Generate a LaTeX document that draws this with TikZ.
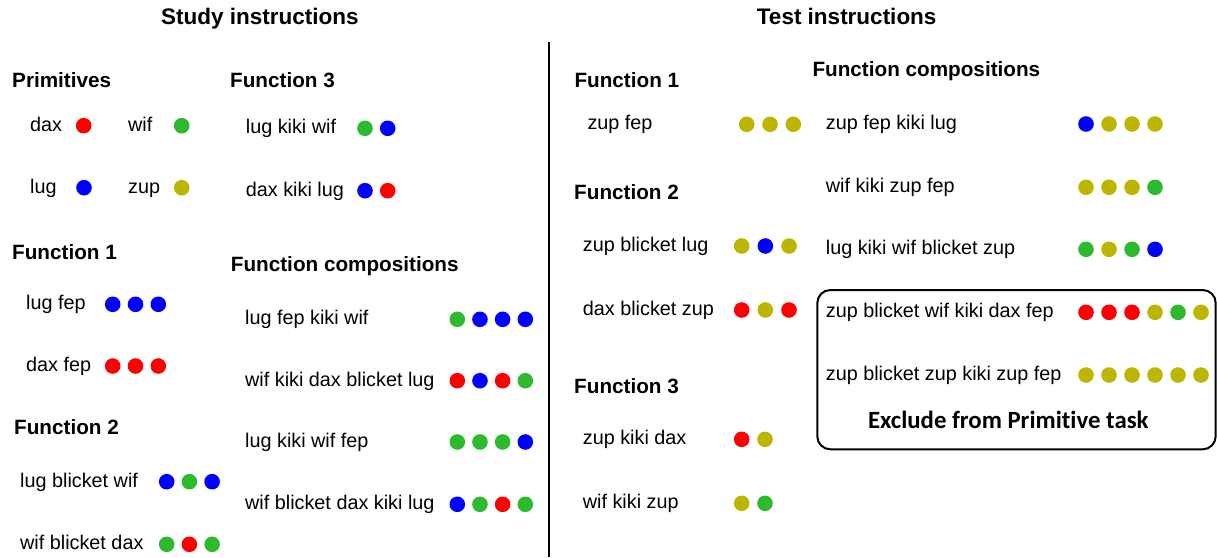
\documentclass[tikz,border=0pt]{standalone}
\usepackage{fontspec}
\setmainfont{Liberation Sans}
\newfontfamily\calibfont[Ligatures=NoCommon]{Carlito}
\definecolor{cred}{RGB}{255,0,0}
\definecolor{cblue}{RGB}{0,0,255}
\definecolor{cgreen}{RGB}{46,186,46}
\definecolor{colive}{RGB}{189,182,0}
\newcommand{\dotrow}[5]{% name, x0, y, spacing, colors
  \foreach \c [count=\i from 0] in {#5} {
    \node[dotnode, fill=\c] (#1-\i) at ({#2+#4*\i}, #3) {};
  }%
}
\begin{document}
\begin{tikzpicture}[x=1pt, y=-1pt,
  dotnode/.style={circle, draw=none, minimum size=15.6pt, inner sep=0pt},
  txt/.style={anchor=base west, inner sep=0pt, font=\fontsize{19.8}{23}\selectfont},
  head/.style={anchor=base west, inner sep=0pt, font=\fontsize{20.7}{24}\selectfont\bfseries},
  title/.style={anchor=base west, inner sep=0pt, font=\fontsize{22.5}{26}\selectfont\bfseries},
  excl/.style={anchor=base, inner sep=0pt, font=\fontsize{24.8}{28}\selectfont\calibfont\bfseries},
  sep/.style={line width=1.6pt, black},
  exclbox/.style={draw=black, line width=2pt, rounded corners=13pt, inner sep=0pt,
                  minimum width=398.4pt, minimum height=159.3pt}
]
\useasboundingbox (0,0) rectangle (1217,557);
% titles
\node[title] (tstudy) at (161,24) {Study instructions};
\node[title] (ttest) at (756.7,24) {Test instructions};
% separator
\coordinate (septop) at (549,41.7);
\coordinate (sepbot) at (549,557);
\draw[sep] (septop) -- (sepbot);
% ---------- left: study ----------
\node[head] (hprim) at (12,87) {Primitives};
\node[txt] (tdax) at (30,131.3) {dax};
\dotrow{ddax}{83.7}{125.7}{22.8}{cred}
\node[txt] (twif) at (128,131.3) {wif};
\dotrow{dwif}{181.7}{125.7}{22.8}{cgreen}
\node[txt] (tlug) at (30,193.3) {lug};
\dotrow{dlug}{84}{187.7}{22.8}{cblue}
\node[txt] (tzup) at (128,193.3) {zup};
\dotrow{dzup}{181.7}{187.7}{22.8}{colive}

\node[head] (hsf1) at (12,259) {Function 1};
\node[txt] (tlugfep) at (26,309.9) {lug fep};
\dotrow{dlugfep}{112.7}{304.3}{22.8}{cblue,cblue,cblue}
\node[txt] (tdaxfep) at (26,371.6) {dax fep};
\dotrow{ddaxfep}{112.7}{366}{22.8}{cred,cred,cred}

\node[head] (hsf2) at (14,434) {Function 2};
\node[txt] (tlbw) at (20,487.3) {lug blicket wif};
\dotrow{dlbw}{166.7}{481.7}{22.7}{cblue,cgreen,cblue}
\node[txt] (twbd) at (20,549.9) {wif blicket dax};
\dotrow{dwbd}{166.7}{544.3}{22.7}{cgreen,cred,cgreen}

\node[head] (hsf3) at (230,87) {Function 3};
\node[txt] (tlkw) at (245.7,133.9) {lug kiki wif};
\dotrow{dlkw}{365}{128.3}{22.7}{cgreen,cblue}
\node[txt] (tdkl) at (245.7,196.3) {dax kiki lug};
\dotrow{ddkl}{365}{190.7}{22.7}{cblue,cred}

\node[head] (hscomp) at (230.7,271.7) {Function compositions};
\node[txt] (tc1) at (245,324.9) {lug fep kiki wif};
\dotrow{dc1}{457.3}{319.3}{22.67}{cgreen,cblue,cblue,cblue}
\node[txt] (tc2) at (245,386.3) {wif kiki dax blicket lug};
\dotrow{dc2}{457.3}{380.7}{22.67}{cred,cblue,cred,cgreen}
\node[txt] (tc3) at (245,447.6) {lug kiki wif fep};
\dotrow{dc3}{457.3}{442}{22.67}{cgreen,cgreen,cgreen,cblue}
\node[txt] (tc4) at (245,509.9) {wif blicket dax kiki lug};
\dotrow{dc4}{457.3}{504.3}{22.67}{cblue,cgreen,cred,cgreen}

% ---------- right: test ----------
\node[head] (htf1) at (574.3,87.3) {Function 1};
\node[txt] (tzf) at (587.3,129.9) {zup fep};
\dotrow{dzf}{746.7}{124.3}{23.3}{colive,colive,colive}

\node[head] (htf2) at (574,199.3) {Function 2};
\node[txt] (tzbl) at (582.7,251.6) {zup blicket lug};
\dotrow{dzbl}{741.7}{246}{23.65}{colive,cblue,colive}
\node[txt] (tdbz) at (582.7,315.6) {dax blicket zup};
\dotrow{ddbz}{741.7}{310}{23.65}{cred,colive,cred}

\node[head] (htf3) at (574,393.3) {Function 3};
\node[txt] (tzkd) at (582.7,444.9) {zup kiki dax};
\dotrow{dzkd}{741.7}{439.3}{23.3}{cred,colive}
\node[txt] (twkz) at (582.7,508.9) {wif kiki zup};
\dotrow{dwkz}{741.7}{503.3}{23.3}{colive,cgreen}

\node[head] (htcomp) at (812.3,76) {Function compositions};
\node[txt] (tr1) at (825.7,129.6) {zup fep kiki lug};
\dotrow{dr1}{1086}{124}{23}{cblue,colive,colive,colive}
\node[txt] (tr2) at (825.7,192.9) {wif kiki zup fep};
\dotrow{dr2}{1086}{187.3}{23}{colive,colive,colive,cgreen}
\node[txt] (tr3) at (825.7,254.9) {lug kiki wif blicket zup};
\dotrow{dr3}{1086}{249.3}{23}{cgreen,colive,cgreen,cblue}

% excluded box
\node[exclbox] (exbox) at (1016.5,369.65) {};
\node[txt] (tr4) at (825.7,317.9) {zup blicket wif kiki dax fep};
\dotrow{dr4}{1086}{312.3}{23}{cred,cred,cred,colive,cgreen,colive}
\node[txt] (tr5) at (825.7,380.6) {zup blicket zup kiki zup fep};
\dotrow{dr5}{1086}{375}{23}{colive,colive,colive,colive,colive,colive}
\node[excl] (texcl) at (1008.3,428.3) {Exclude from Primitive task};
\end{tikzpicture}
\end{document}
